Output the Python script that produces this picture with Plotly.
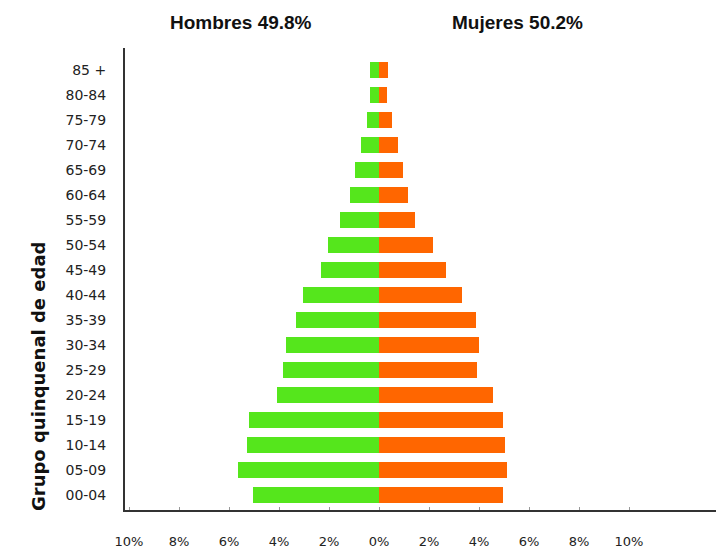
import plotly.graph_objects as go

age_groups = ["00-04", "05-09", "10-14", "15-19", "20-24", "25-29", "30-34", "35-39",
              "40-44", "45-49", "50-54", "55-59", "60-64", "65-69", "70-74", "75-79",
              "80-84", "85 +"]
hombres = [5.04, 5.64, 5.28, 5.2, 4.08, 3.84, 3.72, 3.32, 3.04, 2.32, 2.04, 1.56,
           1.16, 0.96, 0.72, 0.48, 0.36, 0.36]
mujeres = [4.96, 5.12, 5.04, 4.96, 4.56, 3.92, 4.0, 3.88, 3.32, 2.68, 2.16, 1.44,
           1.16, 0.96, 0.76, 0.52, 0.32, 0.36]
x_tickvals = [-10, -8, -6, -4, -2, 0, 2, 4, 6, 8, 10]
x_ticktext = ["10%", "8%", "6%", "4%", "2%", "0%", "2%", "4%", "6%", "8%", "10%"]
title_h = "Hombres 49.8%"
title_m = "Mujeres 50.2%"
y_title = "Grupo quinquenal de edad"

font_ticks = "DejaVu Sans, sans-serif"
font_title = "Liberation Sans, Arial, sans-serif"

fig = go.Figure()
fig.add_trace(go.Bar(y=list(range(len(age_groups))), x=[-v for v in hombres],
                     orientation="h", marker=dict(color="#55E61C", line=dict(width=0)),
                     width=0.64, name="Hombres"))
fig.add_trace(go.Bar(y=list(range(len(age_groups))), x=mujeres,
                     orientation="h", marker=dict(color="#FF6600", line=dict(width=0)),
                     width=0.64, name="Mujeres"))

L, R, T, B = 125, 0, 48, 42
W, H = 716, 552

fig.update_layout(
    width=W, height=H,
    margin=dict(l=L, r=R, t=T, b=B),
    barmode="overlay",
    showlegend=False,
    plot_bgcolor="white", paper_bgcolor="white",
    font=dict(family=font_ticks, color="#222222", size=14),
    xaxis=dict(range=[-10.16, 13.48], tickvals=x_tickvals, ticktext=x_ticktext,
               showgrid=False, zeroline=False, showline=True, linecolor="#333333",
               linewidth=2, ticks="inside", ticklen=3, tickcolor="#999999",
               ticklabelstandoff=18, automargin=False,
               tickfont=dict(family=font_ticks, size=13, color="#222222")),
    yaxis=dict(range=[-0.6, 17.88], tickvals=list(range(len(age_groups))),
               ticktext=age_groups, showgrid=False, zeroline=False, showline=True,
               linecolor="#333333", linewidth=2, ticks="", ticklabelstandoff=14,
               automargin=False, tickfont=dict(family=font_ticks, size=14, color="#222222")),
)

pw, ph = W - L - R, H - T - B


def px2paper(px, py):
    return (px - L) / pw, 1 - (py - T) / ph


for txt, px, py, fnt, size, ang in [
    (title_h, 241, 22, font_title, 19, 0),
    (title_m, 517, 22, font_title, 19, 0),
    (y_title, 38, 377, "DejaVu Sans, sans-serif", 18, -90),
]:
    ax, ay = px2paper(px, py)
    fig.add_annotation(text="<b>" + txt + "</b>", x=ax, y=ay, xref="paper", yref="paper",
                       xanchor="center", yanchor="middle", showarrow=False, textangle=ang,
                       font=dict(family=fnt, size=size, color="#111111"))

fig.write_html("out.html", config={"displayModeBar": False},
               post_script="document.body.style.margin='0';")
